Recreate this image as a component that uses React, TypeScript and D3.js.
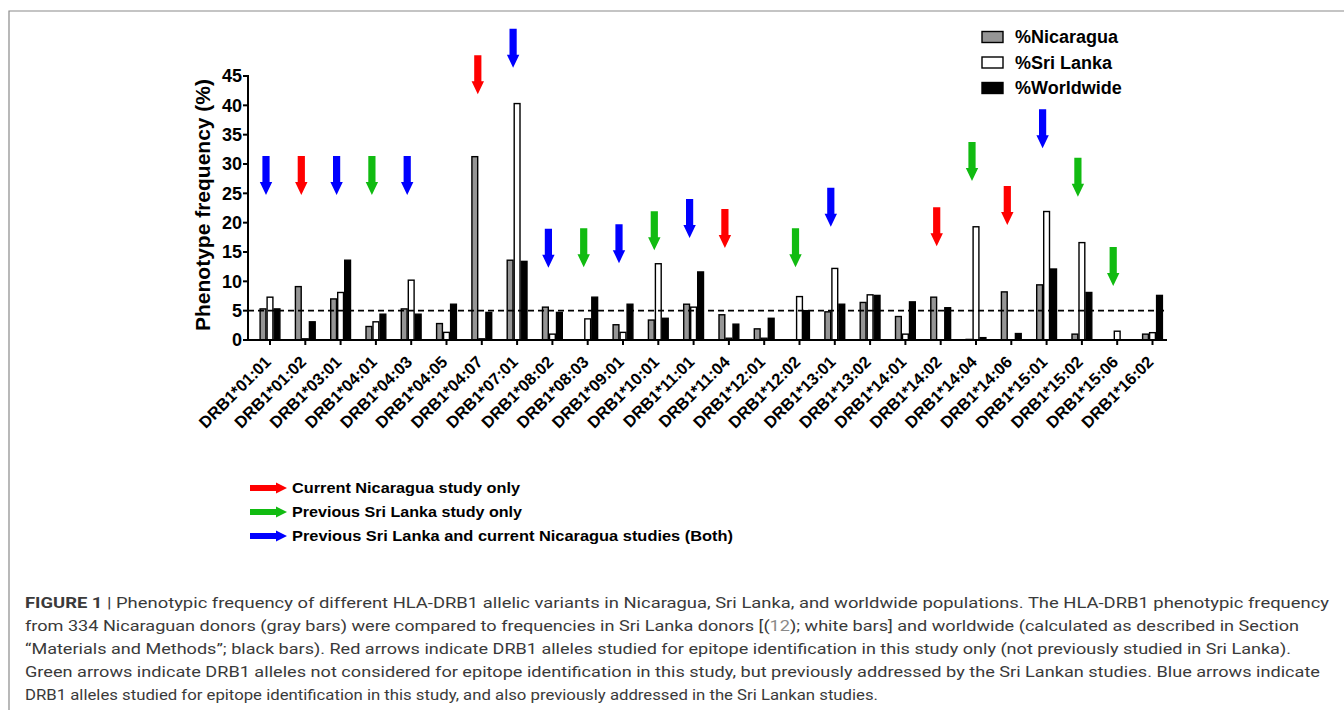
import React from "react";
import * as d3 from "d3";

const categories = [
  "DRB1*01:01", "DRB1*01:02", "DRB1*03:01", "DRB1*04:01", "DRB1*04:03", "DRB1*04:05",
  "DRB1*04:07", "DRB1*07:01", "DRB1*08:02", "DRB1*08:03", "DRB1*09:01", "DRB1*10:01",
  "DRB1*11:01", "DRB1*11:04", "DRB1*12:01", "DRB1*12:02", "DRB1*13:01", "DRB1*13:02",
  "DRB1*14:01", "DRB1*14:02", "DRB1*14:04", "DRB1*14:06", "DRB1*15:01", "DRB1*15:02",
  "DRB1*15:06", "DRB1*16:02",
];
const nicaragua = [5.3, 9.1, 7.0, 2.3, 5.3, 2.8, 31.25, 13.6, 5.6, 0, 2.6, 3.4, 6.1, 4.3, 1.9, 0, 4.8, 6.4, 4.0, 7.3, 0.1, 8.2, 9.4, 1.0, 0, 1.0];
const sriLanka = [7.3, 0.2, 8.1, 3.1, 10.2, 1.3, 0.2, 40.3, 1.0, 3.6, 1.3, 13.0, 5.6, 0.3, 0.3, 7.4, 12.2, 7.7, 1.0, 0, 19.3, 0, 21.9, 16.6, 1.5, 1.25];
const worldwide = [5.3, 3.1, 13.6, 4.4, 4.4, 6.1, 4.7, 13.4, 4.7, 7.3, 6.1, 3.7, 11.6, 2.7, 3.7, 5.0, 6.1, 7.6, 6.5, 5.5, 0.4, 1.1, 12.1, 8.1, 0, 7.6];
const seriesNames = ["%Nicaragua", "%Sri Lanka", "%Worldwide"];
const yTicks = [0, 5, 10, 15, 20, 25, 30, 35, 40, 45];
const threshold = 5;

// arrow annotation per allele: kind and tip level (in % units)
const arrowKinds = [
  "both", "current", "both", "previous", "both", null, "current", "both", "both", "previous",
  "both", "previous", "both", "current", null, "previous", "both", null, null, "current",
  "previous", "current", "both", "previous", "previous", null,
];
const arrowTips = [
  24.7, 24.7, 24.7, 24.7, 24.7, null, 41.9, 46.4, 12.3, 12.4, 13.1, 15.3, 17.4, 15.7, null,
  12.4, 19.3, null, null, 16.0, 27.1, 19.6, 32.7, 24.4, 9.2, null,
];
const arrowLegend = [
  { kind: "current", label: "Current Nicaragua study only" },
  { kind: "previous", label: "Previous Sri Lanka study only" },
  { kind: "both", label: "Previous Sri Lanka and current Nicaragua studies (Both)" },
];
const arrowLegendWidths = [228, 230, 441];
const captionLines = [
  [["b", "FIGURE 1"], ["n", " | Phenotypic frequency of different HLA-DRB1 allelic variants in Nicaragua, Sri Lanka, and worldwide populations. The HLA-DRB1 phenotypic frequency"]],
  [["n", "from 334 Nicaraguan donors (gray bars) were compared to frequencies in Sri Lanka donors [("], ["l", "12"], ["n", "); white bars] and worldwide (calculated as described in Section"]],
  [["n", "\u201cMaterials and Methods\u201d; black bars). Red arrows indicate DRB1 alleles studied for epitope identification in this study only (not previously studied in Sri Lanka)."]],
  [["n", "Green arrows indicate DRB1 alleles not considered for epitope identification in this study, but previously addressed by the Sri Lankan studies. Blue arrows indicate"]],
  [["n", "DRB1 alleles studied for epitope identification in this study, and also previously addressed in the Sri Lankan studies."]],
];
const captionWidths = [1304, 1274, 1266, 1295, 853];

const arrowColors: Record<string, string> = { current: "#ff0000", previous: "#11bb11", both: "#0000ff" };
const seriesFill = ["#959595", "#ffffff", "#000000"];

export default function App() {
  const W = 1344, H = 710;
  const left = 248, right = 1167, top = 76, bottom = 340;
  const y = d3.scaleLinear().domain([0, 45]).range([bottom, top]);
  const x0 = d3.scalePoint<string>().domain(categories).range([270, 1152.5]);
  const x1 = d3.scaleBand<string>().domain(seriesNames).range([-10.5, 10.5]).padding(0);
  const values = [nicaragua, sriLanka, worldwide];
  const font = "'Liberation Sans', Arial, sans-serif";

  const vArrow = (cx: number, tipY: number) => {
    const len = 39, head = 13, sw = 3.6, hw = 6.2;
    return `M${cx - sw},${tipY - len} H${cx + sw} V${tipY - head} H${cx + hw} L${cx},${tipY} L${cx - hw},${tipY - head} H${cx - sw} Z`;
  };
  const hArrow = (x: number, cy: number) => {
    const len = 37, head = 11, sh = 3, hh = 5.5;
    return `M${x},${cy - sh} H${x + len - head} V${cy - hh} L${x + len},${cy} L${x + len - head},${cy + hh} V${cy + sh} H${x} Z`;
  };

  return (
    <svg width={W} height={H} style={{ position: "absolute", left: 0, top: 0, background: "#fff" }} fontFamily={font}>
      <path d={`M9,${H} V11 H${W}`} fill="none" stroke="#8a8a8a" strokeWidth={1.2} />

      {/* bars */}
      {categories.map((c, i) => (
        <g key={c} transform={`translate(${x0(c)},0)`}>
          {seriesNames.map((s, k) => {
            const v = values[k][i];
            if (v <= 0) return null;
            const bx = (x1(s) as number) + 0.6;
            const bw = x1.bandwidth() - 1.2;
            return (
              <rect key={s} x={bx} y={y(v)} width={bw} height={bottom - y(v)}
                fill={seriesFill[k]} stroke="#000" strokeWidth={1.4} />
            );
          })}
        </g>
      ))}

      {/* threshold line */}
      <line x1={left} x2={right} y1={y(threshold)} y2={y(threshold)} stroke="#000" strokeWidth={1.6} strokeDasharray="6,4" />

      {/* axes */}
      <line x1={left} x2={left} y1={top - 1} y2={bottom} stroke="#000" strokeWidth={2} />
      <line x1={left - 1} x2={right} y1={bottom} y2={bottom} stroke="#000" strokeWidth={2} />
      {yTicks.map((t) => (
        <g key={t}>
          <line x1={left - 5} x2={left} y1={y(t)} y2={y(t)} stroke="#000" strokeWidth={2} />
          <text x={left - 6} y={y(t)} dy="0.36em" textAnchor="end" fontSize={18} fontWeight="bold">{t}</text>
        </g>
      ))}
      {categories.map((c) => (
        <g key={c}>
          <line x1={x0(c)} x2={x0(c)} y1={bottom} y2={bottom + 5} stroke="#000" strokeWidth={2} />
          <text transform={`translate(${(x0(c) as number) + 2},${bottom + 23}) rotate(-45)`} textAnchor="end" fontSize={16.5} fontWeight="bold">{c}</text>
        </g>
      ))}
      <text transform={`translate(${210},${(top + bottom) / 2 - 3}) rotate(-90)`} textAnchor="middle" fontSize={21} fontWeight="bold">Phenotype frequency (%)</text>

      {/* arrows */}
      {categories.map((c, i) => {
        const kind = arrowKinds[i];
        const tip = arrowTips[i];
        if (!kind || tip == null) return null;
        return <path key={c} d={vArrow((x0(c) as number) - 4, y(tip))} fill={arrowColors[kind]} />;
      })}

      {/* series legend */}
      {seriesNames.map((s, k) => (
        <g key={s} transform={`translate(982,${37 + k * 25.5})`}>
          <rect x={0} y={-5.5} width={21} height={11} fill={seriesFill[k]} stroke="#000" strokeWidth={1.4} />
          <text x={33} y={0} dy="0.36em" fontSize={18} fontWeight="bold">{s}</text>
        </g>
      ))}

      {/* arrow legend */}
      {arrowLegend.map((a, k) => (
        <g key={a.kind} transform={`translate(0,${488 + k * 24})`}>
          <path d={hArrow(250, 0)} fill={arrowColors[a.kind]} />
          <text x={292} y={0} dy="0.36em" fontSize={15} fontWeight="bold"
            textLength={arrowLegendWidths[k]} lengthAdjust="spacingAndGlyphs">{a.label}</text>
        </g>
      ))}

      {/* caption */}
      {captionLines.map((line, li) => (
        <text key={li} x={25} y={608 + li * 23.1} fontSize={15} fill="#3a3a3a"
          fontFamily="'Liberation Sans Narrow', 'Roboto', Arial, sans-serif"
          textLength={captionWidths[li]} lengthAdjust="spacingAndGlyphs">
          {line.map(([k, t], j) => (
            <tspan key={j} fontWeight={k === "b" ? "bold" : "normal"} fill={k === "l" ? "#8a8a8a" : "#3a3a3a"}>{t}</tspan>
          ))}
        </text>
      ))}
    </svg>
  );
}
